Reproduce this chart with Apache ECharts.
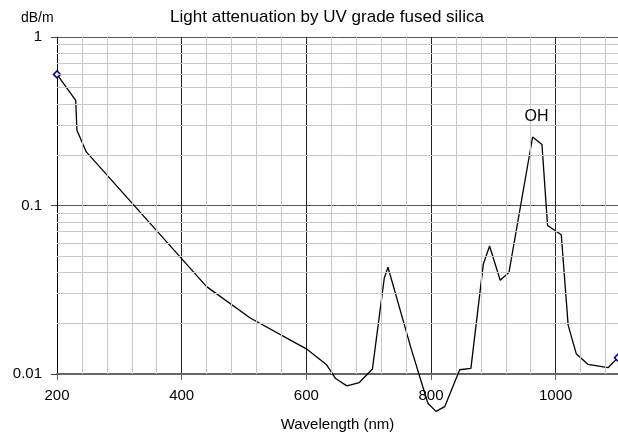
<!DOCTYPE html>
<html>
<head>
<meta charset="utf-8">
<script src="https://cdn.jsdelivr.net/npm/echarts@6/dist/echarts.min.js"></script>
<style>
  html, body { margin: 0; padding: 0; background: #fff; }
  #chart { width: 618px; height: 440px; }
</style>
</head>
<body>
<div id="chart"></div>
<script>
// Attenuation spectrum of UV grade fused silica (dB/m vs wavelength in nm)
const wavelength = [200, 230, 232, 247, 440, 510, 600, 632, 647, 665, 685, 706,
  725, 731, 768, 795, 808, 822, 846, 864, 884, 894, 911, 925, 963, 978, 987,
  1009, 1020, 1033, 1052, 1084, 1100];
const attenuation = [0.60, 0.42, 0.28, 0.208, 0.033, 0.0215, 0.0141, 0.0114,
  0.0094, 0.0085, 0.0089, 0.0107, 0.037, 0.043, 0.0142, 0.0067, 0.0060, 0.0064,
  0.0106, 0.0108, 0.045, 0.0575, 0.036, 0.040, 0.255, 0.23, 0.076, 0.067,
  0.0195, 0.0132, 0.0114, 0.0109, 0.0125];
const peakLabel = 'OH';
const peakWavelength = 963;
const xMinorLines = [240, 280, 320, 360, 440, 480, 520, 560, 640, 680, 720, 760,
  840, 880, 920, 960, 1040, 1080];
const yMinorLines = [0.02, 0.03, 0.04, 0.05, 0.06, 0.07, 0.08, 0.09,
  0.2, 0.3, 0.4, 0.5, 0.6, 0.7, 0.8, 0.9];

const FONT = 'Liberation Sans, Arial, sans-serif';
const peakIndex = wavelength.indexOf(peakWavelength);
const lastIndex = attenuation.length - 1;

const lineData = wavelength.map((w, i) => {
  const item = { value: [w, attenuation[i]], symbol: 'none' };
  if (i === 0 || i === lastIndex) {
    item.symbol = 'diamond';
    item.symbolSize = 7;
  }
  return item;
});

const minorStyle = { color: '#c8c8c8', width: 1, type: 'solid' };

const chart = echarts.init(document.getElementById('chart'), null, { renderer: 'canvas' });
chart.setOption({
  animation: false,
  backgroundColor: '#ffffff',
  title: [
    {
      text: 'Light attenuation by UV grade fused silica',
      left: 322, top: 4, textAlign: 'center',
      textStyle: { fontFamily: FONT, fontSize: 17, fontWeight: 'normal', color: '#000' }
    },
    {
      text: 'dB/m',
      left: 16, top: 6,
      textStyle: { fontFamily: FONT, fontSize: 14, fontWeight: 'normal', color: '#000' }
    }
  ],
  grid: { left: 57, top: 37, width: 562, height: 337, containLabel: false },
  xAxis: {
    type: 'value', min: 200, max: 1100, interval: 200,
    name: 'Wavelength (nm)', nameLocation: 'middle', nameGap: 43,
    nameTextStyle: { fontFamily: FONT, fontSize: 15, color: '#000' },
    axisLine: { show: true, onZero: false, lineStyle: { color: '#666', width: 2 } },
    axisTick: { show: true, length: 6, lineStyle: { color: '#666' } },
    axisLabel: {
      fontFamily: FONT, fontSize: 15, color: '#000', margin: 14, showMaxLabel: false,
      formatter: v => String(v)
    },
    splitLine: { show: true, lineStyle: { color: '#222', width: 1 } }
  },
  yAxis: {
    type: 'log', logBase: 10, min: 0.01, max: 1,
    axisLine: { show: true, lineStyle: { color: '#000', width: 1 } },
    axisTick: { show: true, length: 6, lineStyle: { color: '#444' } },
    axisLabel: {
      fontFamily: FONT, fontSize: 15, color: '#000', margin: 15,
      formatter: v => String(+v.toPrecision(2))
    },
    splitLine: { show: true, lineStyle: { color: '#555', width: 1 } }
  },
  series: [
    {
      // light gridlines: every 40 nm across, and 2..9 within each decade
      type: 'line', data: [], z: 1, silent: true,
      markLine: {
        silent: true, symbol: 'none', label: { show: false },
        lineStyle: minorStyle,
        data: xMinorLines.map(v => ({ xAxis: v }))
          .concat(yMinorLines.map(v => ({ yAxis: v })))
      }
    },
    {
      type: 'line', data: lineData, z: 3, clip: false,
      showSymbol: true,
      lineStyle: { color: '#000', width: 1.3 },
      itemStyle: { color: '#fff', borderColor: '#000080', borderWidth: 1.5 },
      emphasis: { disabled: true },
      markPoint: {
        silent: true,
        symbol: 'circle', symbolSize: 0,
        data: [{
          coord: [wavelength[peakIndex], attenuation[peakIndex]],
          label: {
            show: true, formatter: peakLabel, position: 'top', distance: 12,
            offset: [4, 0],
            color: '#000', fontFamily: FONT, fontSize: 16
          }
        }]
      }
    }
  ]
});
</script>
</body>
</html>
